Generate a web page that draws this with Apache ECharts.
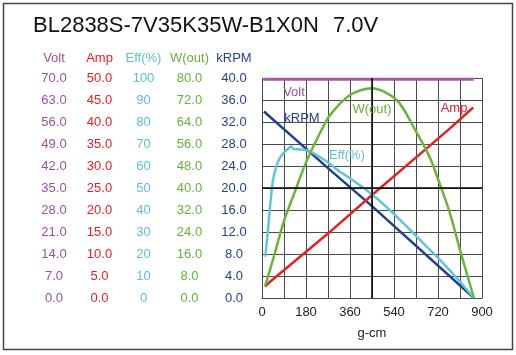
<!DOCTYPE html>
<html>
<head>
<meta charset="utf-8">
<script src="https://cdn.jsdelivr.net/npm/echarts@6/dist/echarts.min.js"></script>
<style>
html,body{margin:0;padding:0;background:#fff;}
#chart{width:516px;height:355px;}
</style>
</head>
<body>
<div id="chart"></div>
<script>
// ---- data (x = torque g-cm) ----
const titleModel = 'BL2838S-7V35K35W-B1X0N';
const titleVolt = '7.0V';
const axisNames = ['Volt', 'Amp', 'Eff(%)', 'W(out)', 'kRPM'];
const axisMax = [70, 50, 100, 80, 40];
const xTickMax = 900;
const xName = 'g-cm';

const voltData = [[5, 69.6], [866, 69.6]];
const ampData = [[12, 2.6], [33, 3.7], [271, 14.7], [442, 23.0], [762, 38.2], [864, 43.3]];
const effData = [[13.5, 18.8], [24.5, 30.9], [34, 43], [45, 53.6], [58.6, 59.7], [72, 63.5], [93, 66.5],
  [112, 68.3], [120, 69.0], [128, 67.8], [147, 67.6], [188, 67.0], [256, 62.7], [324, 57.0], [360, 54.4],
  [453, 46.8], [551, 37.0], [633, 27.9], [728, 17.3], [810, 7.4], [867, 0]];
const wData = [[12, 4.1], [45, 14], [90, 28], [134, 38.5], [181, 49.5], [243, 61], [278, 66.5], [360, 73.8],
  [449, 76.3], [551, 72.0], [626, 61.2], [687, 51.0], [721, 43.0], [769, 30.8], [810, 17.5], [867, 0]];
const rpmData = [[8, 33.9], [278, 23.3], [450, 16.7], [867, 0]];

// ---- styling ----
const FONT = 'Liberation Sans, Arial, sans-serif';
const colors = ['#9c4f9c', '#e0202a', '#5cc0d2', '#68b03c', '#253f8e'];
const lineColors = ['#a25aa6', '#e02424', '#62c4d6', '#6cb33e', '#21408f'];
const labelCenters = [54, 99.5, 143.5, 189.5, 234];
const gridLeft = 262, gridTop = 78, gridRight = 482, gridBottom = 298;

const yAxes = axisNames.map((n, i) => ({
  type: 'value',
  position: 'left',
  min: 0,
  max: axisMax[i],
  interval: axisMax[i] / 10,
  offset: gridLeft - labelCenters[i],
  axisLine: { show: false },
  axisTick: { show: false },
  splitLine: { show: i === 4, lineStyle: { color: '#4a4a4a', width: 1 } },
  axisLabel: {
    color: colors[i], fontSize: 13, fontFamily: FONT, align: 'center', margin: 0,
    padding: [3, 0, 0, 0],
    formatter: v => (i === 2 ? String(Math.round(v)) : v.toFixed(1))
  }
}));

const chart = echarts.init(document.getElementById('chart'), null, { renderer: 'canvas' });
const mk = (name, data, idx, extra) => Object.assign({
  name, type: 'line', data, yAxisIndex: idx, showSymbol: false, symbol: 'none',
  lineStyle: { color: lineColors[idx], width: 2.5 }, itemStyle: { color: lineColors[idx] },
  animation: false, z: 3
}, extra || {});

chart.setOption({
  backgroundColor: '#fff',
  animation: false,
  title: [
    { text: titleModel, left: 33, top: 15, padding: 0,
      textStyle: { fontSize: 22, fontWeight: 'normal', color: '#111', fontFamily: FONT } },
    { text: titleVolt, left: 333, top: 15, padding: 0,
      textStyle: { fontSize: 22, fontWeight: 'normal', color: '#111', fontFamily: FONT } }
  ],
  grid: { left: gridLeft, top: gridTop, width: gridRight - gridLeft, height: gridBottom - gridTop,
    outerBoundsMode: 'none', containLabel: false },
  xAxis: {
    type: 'value', min: 0, max: xTickMax, interval: 90,
    name: xName, nameLocation: 'middle', nameGap: 29,
    nameTextStyle: { fontSize: 13, color: '#222', fontFamily: FONT },
    axisLine: { show: true, lineStyle: { color: '#4a4a4a', width: 1 } },
    axisTick: { show: false },
    splitLine: { show: true, lineStyle: { color: '#4a4a4a', width: 1 } },
    axisLabel: { fontSize: 13, color: '#222', fontFamily: FONT, margin: 8,
      formatter: v => (v % 180 === 0 ? String(v) : '') }
  },
  yAxis: yAxes,
  graphic: [
    { type: 'rect', shape: { x: 3.5, y: 3.5, width: 509, height: 346 },
      style: { fill: 'none', stroke: '#444', lineWidth: 1.5 }, z: 0 },
    ...axisNames.map((n, i) => ({
      type: 'text', x: labelCenters[i], y: 58,
      style: { text: n, fill: colors[i], fontSize: 13, fontFamily: FONT, align: 'center', verticalAlign: 'middle' }
    })),
    { type: 'text', x: 294, y: 92, style: { text: 'Volt', fill: colors[0], fontSize: 13, fontFamily: FONT, align: 'center', verticalAlign: 'middle' }, z: 10 },
    { type: 'text', x: 302, y: 118, style: { text: 'kRPM', fill: colors[4], fontSize: 13, fontFamily: FONT, align: 'center', verticalAlign: 'middle' }, z: 10 },
    { type: 'text', x: 372, y: 109, style: { text: 'W(out)', fill: colors[3], fontSize: 13, fontFamily: FONT, align: 'center', verticalAlign: 'middle' }, z: 10 },
    { type: 'text', x: 454, y: 108, style: { text: 'Amp', fill: colors[1], fontSize: 13, fontFamily: FONT, align: 'center', verticalAlign: 'middle' }, z: 10 },
    { type: 'text', x: 347, y: 155, style: { text: 'Eff(%)', fill: colors[2], fontSize: 13, fontFamily: FONT, align: 'center', verticalAlign: 'middle' }, z: 10 }
  ],
  series: [
    mk('kRPM', rpmData, 4, {
      markLine: {
        silent: true, symbol: 'none', label: { show: false }, animation: false,
        lineStyle: { color: '#000', width: 1.5, type: 'solid' },
        data: [{ xAxis: 450 }, { yAxis: 20 }]
      }
    }),
    mk('Volt', voltData, 0, { lineStyle: { color: lineColors[0], width: 3 } }),
    mk('Amp', ampData, 1),
    mk('Eff', effData, 2, { smooth: 0.2 }),
    mk('W', wData, 3, { smooth: 0.3 })
  ]
});
</script>
</body>
</html>
